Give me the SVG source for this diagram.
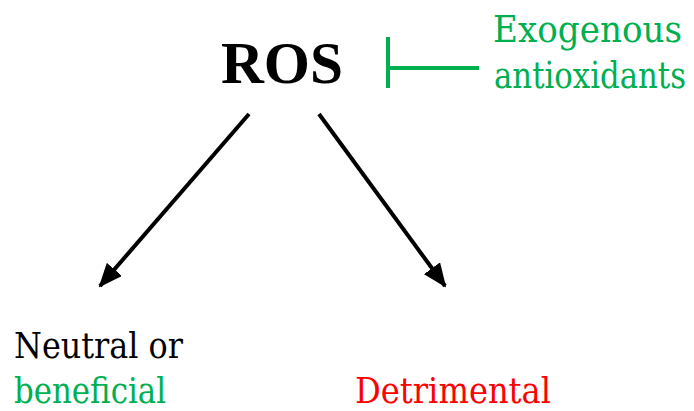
<svg xmlns="http://www.w3.org/2000/svg" width="694" height="411" viewBox="0 0 694 411">
<style>
.t{font-family:"Liberation Serif","Times New Roman",serif;}
.lbl{font-family:"DejaVu Serif",serif;font-size:35px;font-weight:normal;}
.big{font-size:37px;}
.g{fill:#00B050;}
.conn{stroke:#000;stroke-width:4;fill:none;}
</style>
<defs>
<marker id="ah" markerWidth="6" markerHeight="5" refX="5.5" refY="2.5" orient="auto" markerUnits="strokeWidth">
<path d="M0,0 L6,2.5 L0,5 Z" fill="#000"/>
</marker>
</defs>
<rect width="694" height="411" fill="#fff"/>
<g id="ros"><text class="t" x="221" y="83" font-size="60" font-weight="bold" textLength="122" lengthAdjust="spacingAndGlyphs">ROS</text></g>
<g id="antioxidants">
<text class="lbl big g" x="682" y="42" text-anchor="end" textLength="189" lengthAdjust="spacingAndGlyphs">Exogenous</text>
<text class="lbl big g" x="686" y="88" text-anchor="end" textLength="192" lengthAdjust="spacingAndGlyphs">antioxidants</text>
</g>
<g id="neutral">
<text class="lbl" x="14" y="358" textLength="169" lengthAdjust="spacingAndGlyphs">Neutral or</text>
<text class="lbl g" x="14" y="403" textLength="152" lengthAdjust="spacingAndGlyphs">beneficial</text>
</g>
<g id="detrimental"><text class="lbl" x="355" y="403" fill="#FF0000" textLength="196" lengthAdjust="spacingAndGlyphs">Detrimental</text></g>
<g id="connectors">
<line class="conn" x1="249" y1="114" x2="100" y2="286" marker-end="url(#ah)"/>
<line class="conn" x1="319" y1="114" x2="445" y2="286" marker-end="url(#ah)"/>
<g stroke="#00B050" stroke-width="4" fill="none">
<line x1="388" y1="37" x2="388" y2="88"/>
<line x1="388" y1="68" x2="479" y2="68"/>
</g>
</g>
</svg>
